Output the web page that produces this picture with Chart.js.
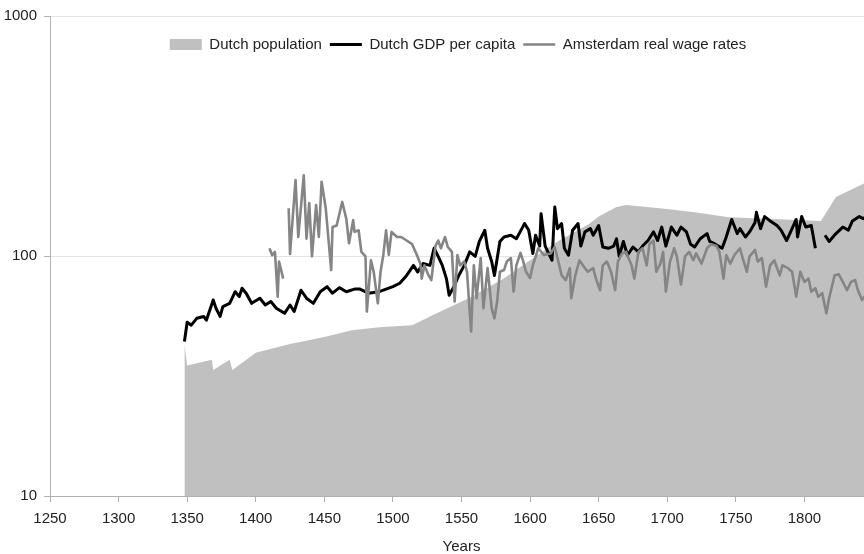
<!DOCTYPE html>
<html><head><meta charset="utf-8">
<script src="https://cdn.jsdelivr.net/npm/chart.js@4/dist/chart.umd.min.js"></script>
<style>
html,body{margin:0;padding:0;background:#fff;overflow:hidden;width:864px;height:554px}
#wrap{position:relative;width:880px;height:554px}
canvas{display:block}
</style></head><body>
<div id="wrap"><canvas id="c" width="880" height="554"></canvas></div>
<script>
// ---- data ----
const xTickValues = [1250,1300,1350,1400,1450,1500,1550,1600,1650,1700,1750,1800];
const yTickValues = [10,100,1000];
const seriesNames = ['Dutch population','Dutch GDP per capita','Amsterdam real wage rates'];

const popYears  = [1348,1350,1368,1369,1381,1383,1400,1425,1450,1470,1490,1514,1530,1556,1580,1600,1620,1643,1650,1663,1670,1700,1720,1745,1812,1823,1843,1850];
const popValues = [43,35,37,33.5,37,33.5,39.5,43,46,49,50.5,51.5,57,67,80,96,115,136,146,160,163,157,152,145,140,176,200,210];

const gdpYears = [1348,1350,1353,1357,1362,1364,1369,1371,1374,1376,1381,1385,1388,1390,1393,1397,1403,1407,1411,1415,1421,1425,1428,1433,1437,1442,1447,1452,1456,1461,1466,1472,1476,1482,1490,1500,1505,1510,1515,1518,1522,1527,1530,1533,1536,1539,1541,1545,1548,1552,1556,1560,1563,1567,1569,1572,1574,1578,1581,1586,1590,1594,1596,1599,1602,1604,1607,1608,1611,1613,1616,1618,1620,1623,1625,1628,1631,1635,1637,1640,1644,1646,1650,1653,1657,1661,1663,1665,1668,1671,1675,1679,1682,1686,1690,1693,1696,1699,1703,1707,1710,1714,1717,1720,1724,1729,1731,1735,1740,1743,1747,1751,1753,1757,1760,1764,1765,1768,1771,1775,1780,1783,1787,1791,1794,1795,1798,1801,1805,1808,1811,1815,1818,1823,1828,1832,1835,1840,1843,1847,1850];
const gdpValues = [44,53,51.5,55,56,54,65.6,60.6,56,61.5,63.5,71,67.7,73.4,70,63.5,66.7,62.5,64.6,60.6,57.7,62.5,58.7,72,66.7,63.5,71,74.5,70,73.8,71,72.8,72.8,70,71,74.5,77,83,91.4,85.7,93,91.4,107.7,99.7,91.4,80.5,68.6,75.5,83,91.4,104,99.7,115,128,107.7,94.8,83,115,120,122,118,130,136.5,128,102.5,122,110,150,110,104,96,160,130,136.5,107.7,100.7,128,136.5,110,126,130,122,134,109,107.7,110,118,99.7,115,100.7,109,104,110,116,126,116,132,110,132,122,132,126,112,109,118,124,115,112,107.7,120,142,124,130,120,126,138,152,130,146,140,134,128,116,130,142,120,146,132,134,107.7,null,122,115,124,132,128,140,146,143,150,148];

const wageYears = [1410,1412,1414,1416,1417,1420,1422,1424,1425,1429,1431,1435,1437,1439,1441,1444,1446,1448,1451,1455,1456,1459,1463,1466,1468,1471,1472,1475,1477,1480,1481,1484,1486,1489,1491,1493,1495,1497,1499,1503,1506,1510,1514,1517,1520,1521,1523,1526,1528,1531,1533,1535,1538,1540,1543,1545,1547,1549,1552,1554,1557,1559,1561,1564,1566,1569,1572,1574,1576,1578,1581,1583,1586,1588,1590,1593,1595,1597,1600,1602,1606,1610,1615,1618,1620,1623,1626,1629,1630,1633,1636,1640,1642,1646,1648,1651,1653,1656,1659,1662,1664,1667,1670,1674,1676,1679,1682,1685,1687,1690,1692,1695,1697,1699,1702,1705,1707,1710,1713,1716,1719,1721,1725,1729,1732,1736,1738,1741,1743,1746,1749,1753,1755,1758,1760,1764,1766,1769,1772,1775,1778,1782,1784,1788,1791,1794,1797,1800,1803,1805,1808,1810,1813,1816,1818,1822,1825,1828,1831,1834,1837,1839,1842,1844,1847,1850];
const wageValues = [107.7,100.7,104,67.7,94.8,80.5,null,158,102,207,120,217,118,166,99.7,163,120,204,158.5,87.4,132,134,168,143,113,141,126,128,104,99.7,58.7,96,86,63.5,86,101,128,101,126,120,120,116,112,102.5,93,80.5,91.4,83,79.4,110,116,107.7,120,109,104,64.6,101,91.4,94.8,86,48.5,91.4,66.7,98,60.6,89,60.6,55,64.6,86,87.4,94.8,98,71,91.4,103,95,86,81,91.4,107.7,101,102.5,109,98,83,79.4,89,66.7,83,96,89,86,89,80.5,72,91.4,94.8,86,72,94.8,102.5,104,91.4,80.5,104,107.7,91.4,112,116,86,93,104,71,94.8,107.7,99.7,76,99.7,104,96,102.5,93,107.7,112,110,104,80.5,101,93,101,107.7,98,86,99.7,106,94.8,98,74.5,91.4,96,83,91.4,89,86,67.7,86,78,80.5,71,73.4,67.7,70,57.7,66.7,83,84,78,72,78,79.4,72,65.6,68,72,70];

// ---- styles ----
const FONT = "'Liberation Sans', Arial, Helvetica, sans-serif";
Chart.defaults.font.family = FONT;
Chart.defaults.font.size = 15;
Chart.defaults.color = '#222';

const pts = (xs, ys) => xs.map((x, i) => ({x: x, y: ys[i]}));

const legendInside = {
  id: 'legendInside',
  beforeLayout(chart) {
    const lg = chart.legend;
    if (lg && !lg._patched) {
      const f = lg.fit;
      lg.fit = function() { f.call(this); this._realH = this.height; this.height = 0; };
      lg._patched = true;
    }
  },
  afterLayout(chart) {
    const lg = chart.legend;
    if (!lg) return;
    lg.top = 29;
    lg.bottom = 29 + 40;
    lg.left = chart.chartArea.left - 7;
    lg.right = chart.chartArea.right;
  }
};

new Chart(document.getElementById('c'), {
  type: 'line',
  data: {
    datasets: [
      { label: seriesNames[0], data: pts(popYears, popValues), borderColor: 'rgba(0,0,0,0)', borderWidth: 0,
        backgroundColor: '#c0c0c0', fill: 'start', pointRadius: 0, tension: 0, order: 3 },
      { label: seriesNames[1], data: pts(gdpYears, gdpValues), borderColor: '#000000', borderWidth: 3,
        backgroundColor: '#000000', fill: false, pointRadius: 0, tension: 0, order: 2, borderJoinStyle: 'round', spanGaps: false },
      { label: seriesNames[2], data: pts(wageYears, wageValues), borderColor: '#858585', borderWidth: 2.6,
        backgroundColor: '#858585', fill: false, pointRadius: 0, tension: 0, order: 1, borderJoinStyle: 'round', spanGaps: false }
    ]
  },
  options: {
    responsive: false,
    animation: false,
    devicePixelRatio: 1,
    layout: { padding: { left: 0, right: 7, top: 16, bottom: 0 } },
    plugins: {
      tooltip: { enabled: false },
      legend: {
        display: true,
        position: 'top',
        align: 'center',
        labels: {
          usePointStyle: true,
          pointStyleWidth: 32,
          boxWidth: 32,
          boxHeight: 11,
          padding: 8,
          font: { size: 15, family: FONT },
          color: '#222',
          generateLabels: (chart) => chart.data.datasets.map((ds, i) => ({
            text: ds.label,
            datasetIndex: i,
            fillStyle: ds.fill ? ds.backgroundColor : 'rgba(0,0,0,0)',
            strokeStyle: ds.fill ? 'rgba(0,0,0,0)' : ds.borderColor,
            lineWidth: ds.fill ? 0 : ds.borderWidth,
            pointStyle: ds.fill ? 'rect' : 'line',
            rotation: 0,
            hidden: false,
            fontColor: '#222'
          }))
        }
      }
    },
    scales: {
      x: {
        type: 'linear',
        min: 1250, max: 1850,
        afterBuildTicks: (s) => { s.ticks = xTickValues.map(v => ({value: v})); },
        afterFit: (s) => { s.height = 58; },
        ticks: { autoSkip: false, maxRotation: 0, padding: 8, color: '#222', font: { size: 15 },
                 callback: (v) => String(v) },
        grid: { drawOnChartArea: false, drawTicks: true, tickLength: 6, tickColor: '#b0b0b0' },
        border: { color: '#b0b0b0', width: 1 },
        title: { display: true, text: 'Years', color: '#222', font: { size: 15 }, padding: { top: 0, bottom: -2 } }
      },
      y: {
        type: 'logarithmic',
        min: 10, max: 1000,
        afterBuildTicks: (s) => { s.ticks = yTickValues.map(v => ({value: v})); },
        afterFit: (s) => { s.width = 50; },
        ticks: { autoSkip: false, padding: 7, color: '#222', font: { size: 15 },
                 callback: (v) => String(v) },
        grid: { color: '#e4e4e4', drawTicks: true, tickLength: 6, tickColor: '#b0b0b0' },
        border: { color: '#b0b0b0', width: 1 }
      }
    }
  },
  plugins: [legendInside]
});
</script>
</body></html>
